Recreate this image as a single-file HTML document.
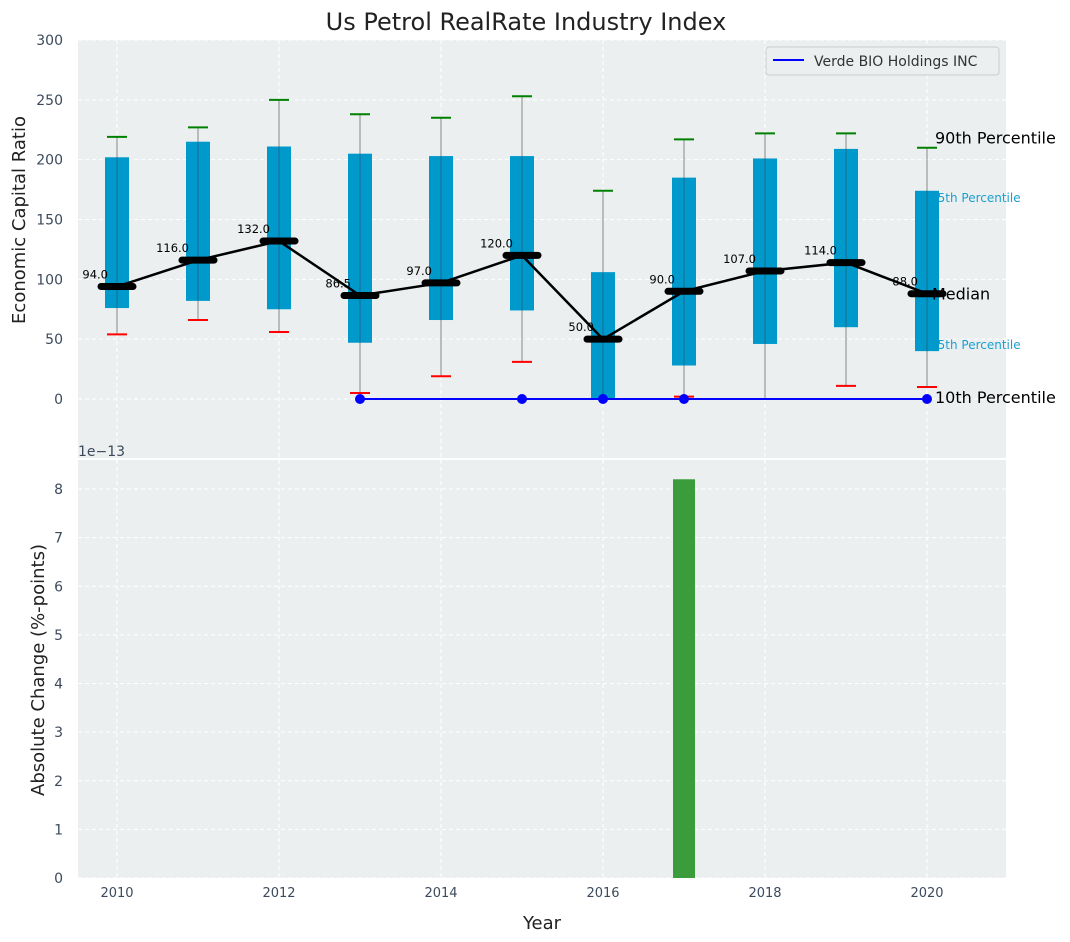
<!DOCTYPE html>
<html><head><meta charset="utf-8"><style>
body{margin:0;background:#fff;}
svg{display:block;font-family:"DejaVu Sans","Liberation Sans",sans-serif;}
</style></head><body>
<svg id="c" width="1070" height="942"></svg>
<script>
const years=[2010,2011,2012,2013,2014,2015,2016,2017,2018,2019,2020];
const p10=[54,66,56,5,19,31,0,2,0,11,10];
const p25=[76,82,75,47,66,74,0,28,46,60,40];
const med=[94,116,132,86.5,97,120,50,90,107,114,88];
const p75=[202,215,211,205,203,203,106,185,201,209,174];
const p90=[219,227,250,238,235,253,174,217,222,222,210];
const verdeYears=[2013,2015,2016,2017,2020];
const verdeVals=[0,0,0,0,0];
const changeYears=[2017];
const changeVals=[8.2];
const topTicks=[0,50,100,150,200,250,300];
const botTicks=[0,1,2,3,4,5,6,7,8];
const xTicks=[2010,2012,2014,2016,2018,2020];

const NS="http://www.w3.org/2000/svg";
const svg=document.getElementById('c');
function el(t,a,txt){const e=document.createElementNS(NS,t);for(const k in a)e.setAttribute(k,a[k]);if(txt!==undefined)e.textContent=txt;svg.appendChild(e);return e;}
const L=78,R=1006;
const x=v=>117+(v-2010)*81;
const yT=v=>399-v*(359/300);
const yB=v=>878-v*(389/8);
const TT=40,TB=458,BT=460,BB=878;

let r=el('rect',{x:L,y:TT,width:R-L,height:TB-TT,fill:'#ebeff0'});

r=el('rect',{x:L,y:BT,width:R-L,height:BB-BT,fill:'#ebeff0'});


xTicks.forEach(t=>{
 let g=el('line',{x1:x(t),x2:x(t),y1:TT,y2:TB,stroke:'#fff','stroke-dasharray':'4,3','stroke-width':1});
 
 g=el('line',{x1:x(t),x2:x(t),y1:BT,y2:BB,stroke:'#fff','stroke-dasharray':'4,3','stroke-width':1});
 
 let tl=el('text',{x:x(t),y:897,'font-size':13,fill:'#3c4a5c','text-anchor':'middle'},t);
 
});
topTicks.forEach(t=>{
 let g=el('line',{x1:L,x2:R,y1:yT(t),y2:yT(t),stroke:'#fff','stroke-dasharray':'4,3','stroke-width':1});
 
 let tl=el('text',{x:63,y:yT(t)+5,'font-size':14,fill:'#3c4a5c','text-anchor':'end'},t);
 
});
botTicks.forEach(t=>{
 let g=el('line',{x1:L,x2:R,y1:yB(t),y2:yB(t),stroke:'#fff','stroke-dasharray':'4,3','stroke-width':1});
 
 let tl=el('text',{x:63,y:yB(t)+5,'font-size':14,fill:'#3c4a5c','text-anchor':'end'},t);
 
});

const last=years.length-1, ax=x(years[last]);
let a=el('text',{x:ax+3,y:yT(p75[last]-6)+4,'font-size':12,fill:'#1a9fd0'},'75th Percentile');

a=el('text',{x:ax+3,y:yT(p25[last]+5)+4,'font-size':12,fill:'#1a9fd0'},'25th Percentile');


years.forEach((yr,i)=>{
 const cx=x(yr);
 let w=el('line',{x1:cx,x2:cx,y1:yT(p10[i]),y2:yT(p90[i]),stroke:'#888','stroke-width':1});
 
 let b=el('rect',{x:cx-12,y:yT(p75[i]),width:24,height:yT(p25[i])-yT(p75[i]),fill:'#0099cc'});
 
 w=el('line',{x1:cx,x2:cx,y1:yT(p25[i]),y2:yT(p75[i]),stroke:'#2a5a6e','stroke-width':1,opacity:0.7});
 
 let c=el('line',{x1:cx-10,x2:cx+10,y1:yT(p90[i]),y2:yT(p90[i]),stroke:'green','stroke-width':2});
 
 c=el('line',{x1:cx-10,x2:cx+10,y1:yT(p10[i]),y2:yT(p10[i]),stroke:'red','stroke-width':2});
 
});

let pts=years.map((yr,i)=>x(yr)+','+yT(med[i])).join(' ');
let ml=el('polyline',{points:pts,fill:'none',stroke:'#000','stroke-width':2.5});

years.forEach((yr,i)=>{
 let m=el('line',{x1:x(yr)-16,x2:x(yr)+16,y1:yT(med[i]),y2:yT(med[i]),stroke:'#000','stroke-width':7,'stroke-linecap':'round'});
 
 let t=el('text',{x:x(yr)-9,y:yT(med[i])-8,'font-size':11.5,fill:'#000','text-anchor':'end'},med[i].toFixed(1));
 
});

pts=verdeYears.map((yr,i)=>x(yr)+','+yT(verdeVals[i])).join(' ');
let vl=el('polyline',{points:pts,fill:'none',stroke:'blue','stroke-width':2});

verdeYears.forEach((yr,i)=>{
 let d=el('circle',{cx:x(yr),cy:yT(verdeVals[i]),r:5,fill:'blue'});
 
});

a=el('text',{x:ax+8,y:yT(p90[last])-4,'font-size':16,fill:'#000'},'90th Percentile');

a=el('text',{x:ax+5,y:yT(med[last])+6,'font-size':16,fill:'#000'},'Median');

a=el('text',{x:ax+8,y:yT(0)+4,'font-size':16,fill:'#000'},'10th Percentile');


changeYears.forEach((yr,i)=>{
 let b=el('rect',{x:x(yr)-11,y:yB(changeVals[i]),width:22,height:yB(0)-yB(changeVals[i]),fill:'#3a9c3a'});
 
});

let lg=el('rect',{x:766,y:47,width:233,height:28,rx:3,fill:'#ebeff0',stroke:'#ccc'});

let ll=el('line',{x1:773,x2:804,y1:60,y2:60,stroke:'blue','stroke-width':2});

let lt=el('text',{x:814,y:66,'font-size':14,fill:'#333'},'Verde BIO Holdings INC');


let t=el('text',{x:526,y:30,'font-size':24,fill:'#222','text-anchor':'middle'},'Us Petrol RealRate Industry Index');

t=el('text',{x:0,y:0,'font-size':18,fill:'#222','text-anchor':'middle',transform:'translate(25,220) rotate(-90)'},'Economic Capital Ratio');

t=el('text',{x:0,y:0,'font-size':18,fill:'#222','text-anchor':'middle',transform:'translate(44,670) rotate(-90)'},'Absolute Change (%-points)');

t=el('text',{x:542,y:929,'font-size':18,fill:'#222','text-anchor':'middle'},'Year');

t=el('text',{x:78,y:456,'font-size':14,fill:'#3c4a5c'},'1e\u221213');

</script>
</body></html>
